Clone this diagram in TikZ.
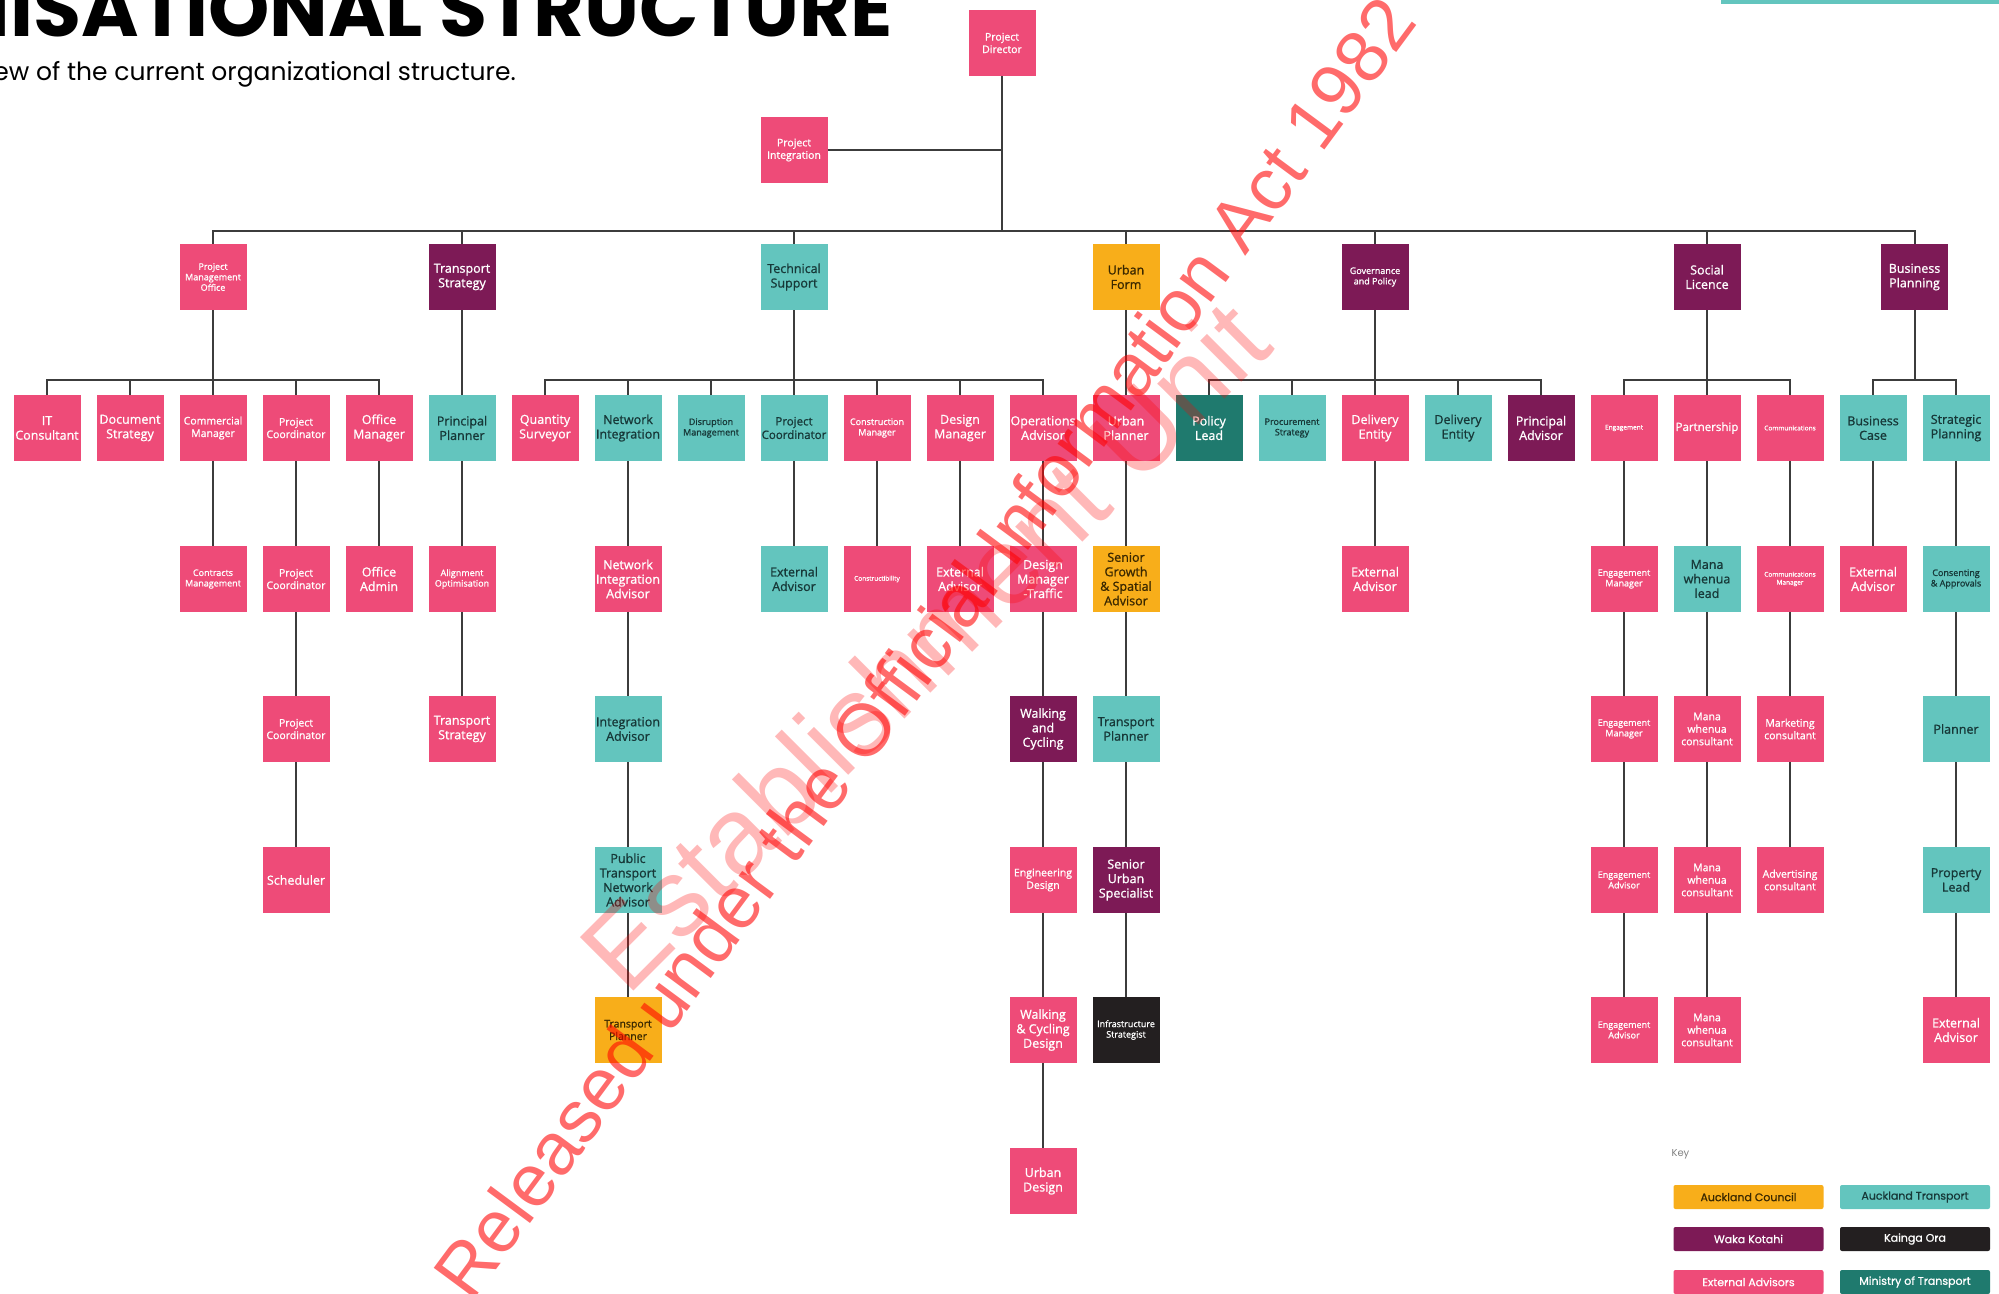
\documentclass[tikz,border=0pt]{standalone}
\usepackage{fontspec}
\usepackage{xcolor}
\newfontfamily\boxfont{Open Sans}[FakeBold=1]
\newfontfamily\headfont{Poppins}
\newfontfamily\keyfont{Poppins}[FakeBold=0.8]
\newfontfamily\markfont{Liberation Sans}
\definecolor{extpink}{HTML}{EE4B78}
\definecolor{atteal}{HTML}{63C5BE}
\definecolor{wkpurple}{HTML}{7D1A56}
\definecolor{acorange}{HTML}{F8AE1A}
\definecolor{kodark}{HTML}{231F20}
\definecolor{motgreen}{HTML}{1F7A6E}
\definecolor{tealtext}{HTML}{173838}
\definecolor{ortext}{HTML}{3A2800}
\definecolor{linegrey}{HTML}{3C3C3C}
\newcommand{\fsbig}{\fontsize{12.5}{14.5}\selectfont}
\newcommand{\fswide}{\fontsize{11.5}{13.5}\selectfont}
\newcommand{\fsmid}{\fontsize{10.5}{12.5}\selectfont}
\newcommand{\fssml}{\fontsize{9}{10.5}\selectfont}
\newcommand{\fstny}{\fontsize{6.5}{8}\selectfont}

\tikzset{
    role/.style={minimum width=67pt, minimum height=66pt, inner sep=0pt, align=center, font=\boxfont\fsbig},
    ext/.style={role, fill=extpink, text=white},
    atr/.style={role, fill=atteal, text=tealtext},
    wk/.style={role, fill=wkpurple, text=white},
    acl/.style={role, fill=acorange, text=ortext},
    kor/.style={role, fill=kodark, text=white},
    mot/.style={role, fill=motgreen, text=white},
    fwide/.style={font=\boxfont\fswide},
    fmid/.style={font=\boxfont\fsmid},
    fsml/.style={font=\boxfont\fssml},
    ftny/.style={font=\boxfont\fstny},
    link/.style={draw=linegrey, line width=2pt},
    keybox/.style={minimum width=150pt, minimum height=24pt, inner sep=0pt, rounded corners=2pt, font=\keyfont\fontsize{11}{11}\selectfont},
}

\begin{document}
\begin{tikzpicture}[x=1pt, y=-1pt]
    \useasboundingbox (0,0) rectangle (1999,1293);
    \clip (0,0) rectangle (1999,1293);

    \node[anchor=base east, inner sep=0pt, font=\headfont\bfseries\fontsize{78}{78}\selectfont] (title) at (893,36) {ORGANISATIONAL STRUCTURE};
    \node[anchor=base east, inner sep=0pt, font=\headfont\fontsize{25}{26}\selectfont] (subtitle) at (516,80) {Below is an overview of the current organizational structure.};
    \fill[atteal] (1721,0) rectangle (1999,4);

    % top
    \node[ext,fmid] (pd) at (1002,43) {Project\\Director};
    \node[ext,fmid] (pint) at (794,150) {Project\\Integration};

    % workstreams
    \node[ext,fsml] (pmo) at (213,277) {Project\\Management\\Office};
    \node[wk] (tstrat) at (462,277) {Transport\\Strategy};
    \node[atr] (techsup) at (794,277) {Technical\\Support};
    \node[acl] (urbform) at (1126,277) {Urban\\Form};
    \node[wk,fsml] (govpol) at (1375,277) {Governance\\and Policy};
    \node[wk] (soclic) at (1707,277) {Social\\Licence};
    \node[wk] (busplan) at (1914.5,277) {Business\\Planning};

    % second level
    \node[ext] (itcons) at (47,428) {IT\\Consultant};
    \node[ext] (docstrat) at (130,428) {Document\\Strategy};
    \node[ext,fmid] (commgr) at (213,428) {Commercial\\Manager};
    \node[ext,fmid] (pcoordA) at (296,428) {Project\\Coordinator};
    \node[ext] (offmgr) at (379,428) {Office\\Manager};
    \node[atr] (prplan) at (462,428) {Principal\\Planner};
    \node[ext] (qsurv) at (545,428) {Quantity\\Surveyor};
    \node[atr] (netint) at (628,428) {Network\\Integration};
    \node[atr,fsml] (disrupt) at (711,428) {Disruption\\Management};
    \node[atr,fwide] (pcoordB) at (794,428) {Project\\Coordinator};
    \node[ext,fsml] (constmgr) at (877,428) {Construction\\Manager};
    \node[ext] (desmgr) at (960,428) {Design\\Manager};
    \node[ext] (opsadv) at (1043,428) {Operations\\Advisor};
    \node[ext] (urbplan) at (1126,428) {Urban\\Planner};
    \node[mot] (pollead) at (1209,428) {Policy\\Lead};
    \node[atr,fsml] (procstrat) at (1292,428) {Procurement\\Strategy};
    \node[ext] (delentA) at (1375,428) {Delivery\\Entity};
    \node[atr] (delentB) at (1458,428) {Delivery\\Entity};
    \node[wk] (pradv) at (1541,428) {Principal\\Advisor};
    \node[ext,ftny] (engage) at (1624,428) {Engagement};
    \node[ext,fwide] (partner) at (1707,428) {Partnership};
    \node[ext,ftny] (comms) at (1790,428) {Communications};
    \node[atr] (buscase) at (1873,428) {Business\\Case};
    \node[atr] (stratplan) at (1956,428) {Strategic\\Planning};

    % third level
    \node[ext,fsml] (contracts) at (213,579) {Contracts\\Management};
    \node[ext,fmid] (pcoordC) at (296,579) {Project\\Coordinator};
    \node[ext] (offadmin) at (379,579) {Office\\Admin};
    \node[ext,fsml] (align) at (462,579) {Alignment\\Optimisation};
    \node[ext] (niadv) at (628,579) {Network\\Integration\\Advisor};
    \node[atr] (extadvA) at (794,579) {External\\Advisor};
    \node[ext,ftny] (constr) at (877,579) {Constructibility};
    \node[ext] (extadvB) at (960,579) {External\\Advisor};
    \node[ext] (dmtraffic) at (1043,579) {Design\\Manager\\-Traffic};
    \node[acl] (sgsa) at (1126,579) {Senior\\Growth\\\& Spatial\\Advisor};
    \node[ext] (extadvC) at (1375,579) {External\\Advisor};
    \node[ext,fsml] (engmgrA) at (1624,579) {Engagement\\Manager};
    \node[atr] (mwlead) at (1707,579) {Mana\\whenua\\lead};
    \node[ext,ftny] (commsmgr) at (1790,579) {Communications\\Manager};
    \node[ext] (extadvD) at (1873,579) {External\\Advisor};
    \node[atr,fsml] (consent) at (1956,579) {Consenting\\\& Approvals};

    % fourth level
    \node[ext,fmid] (pcoordD) at (296,729) {Project\\Coordinator};
    \node[ext] (tstratB) at (462,729) {Transport\\Strategy};
    \node[atr] (intadv) at (628,729) {Integration\\Advisor};
    \node[wk] (walkcyc) at (1043,729) {Walking\\and\\Cycling};
    \node[atr] (tplanA) at (1126,729) {Transport\\Planner};
    \node[ext,fsml] (engmgrB) at (1624,729) {Engagement\\Manager};
    \node[ext,fmid] (mwconsA) at (1707,729) {Mana\\whenua\\consultant};
    \node[ext,fmid] (marketing) at (1790,729) {Marketing\\consultant};
    \node[atr] (planner) at (1956,729) {Planner};

    % fifth level
    \node[ext] (sched) at (296,880) {Scheduler};
    \node[atr] (ptna) at (628,880) {Public\\Transport\\Network\\Advisor};
    \node[ext,fmid] (engdes) at (1043,880) {Engineering\\Design};
    \node[wk] (seniorurb) at (1126,880) {Senior\\Urban\\Specialist};
    \node[ext,fsml] (engadvA) at (1624,880) {Engagement\\Advisor};
    \node[ext,fmid] (mwconsB) at (1707,880) {Mana\\whenua\\consultant};
    \node[ext,fmid] (advert) at (1790,880) {Advertising\\consultant};
    \node[atr] (proplead) at (1956,880) {Property\\Lead};

    % sixth and seventh level
    \node[acl,fmid] (tplanB) at (628,1030) {Transport\\Planner};
    \node[ext] (wcdesign) at (1043,1030) {Walking\\\& Cycling\\Design};
    \node[kor,fsml] (infra) at (1126,1030) {Infrastructure\\Strategist};
    \node[ext,fsml] (engadvB) at (1624,1030) {Engagement\\Advisor};
    \node[ext,fmid] (mwconsC) at (1707,1030) {Mana\\whenua\\consultant};
    \node[ext] (extadvE) at (1956,1030) {External\\Advisor};
    \node[ext] (urbdes) at (1043,1181) {Urban\\Design};

    % connectors
    \coordinate (mainbus) at (1002,231);
    \draw[link] (pd.south) -- (mainbus);
    \draw[link] (pint.east) -- (pint.east -| pd.south);
    \foreach \n in {pmo,tstrat,techsup,urbform,govpol,soclic,busplan}
        \draw[link] (\n.north) |- (mainbus);

    \coordinate (pmobus) at (213,380);
    \coordinate (tsbus) at (794,380);
    \coordinate (govbus) at (1375,380);
    \coordinate (slbus) at (1707,380);
    \coordinate (bpbus) at (1914.5,380);
    \draw[link] (pmo.south) -- (pmobus);
    \draw[link] (techsup.south) -- (tsbus);
    \draw[link] (govpol.south) -- (govbus);
    \draw[link] (soclic.south) -- (slbus);
    \draw[link] (busplan.south) -- (bpbus);
    \foreach \n in {itcons,docstrat,commgr,pcoordA,offmgr}
        \draw[link] (\n.north) |- (pmobus);
    \foreach \n in {qsurv,netint,disrupt,pcoordB,constmgr,desmgr,opsadv}
        \draw[link] (\n.north) |- (tsbus);
    \foreach \n in {pollead,procstrat,delentA,delentB,pradv}
        \draw[link] (\n.north) |- (govbus);
    \foreach \n in {engage,partner,comms}
        \draw[link] (\n.north) |- (slbus);
    \foreach \n in {buscase,stratplan}
        \draw[link] (\n.north) |- (bpbus);

    \foreach \a/\b in {tstrat/prplan, urbform/urbplan,
        commgr/contracts, pcoordA/pcoordC, pcoordC/pcoordD, pcoordD/sched, offmgr/offadmin,
        prplan/align, align/tstratB,
        netint/niadv, niadv/intadv, intadv/ptna, ptna/tplanB,
        pcoordB/extadvA, constmgr/constr, desmgr/extadvB,
        opsadv/dmtraffic, dmtraffic/walkcyc, walkcyc/engdes, engdes/wcdesign, wcdesign/urbdes,
        urbplan/sgsa, sgsa/tplanA, tplanA/seniorurb, seniorurb/infra,
        delentA/extadvC,
        engage/engmgrA, engmgrA/engmgrB, engmgrB/engadvA, engadvA/engadvB,
        partner/mwlead, mwlead/mwconsA, mwconsA/mwconsB, mwconsB/mwconsC,
        comms/commsmgr, commsmgr/marketing, marketing/advert,
        buscase/extadvD,
        stratplan/consent, consent/planner, planner/proplead, proplead/extadvE}
        \draw[link] (\a) -- (\b);

    % key
    \node[anchor=west, text=gray, font=\headfont\fontsize{10}{10}\selectfont] (keyhead) at (1668,1154) {Key};
    \node[keybox, fill=acorange, text=ortext] (kac) at (1748.5,1197) {Auckland Council};
    \node[keybox, fill=atteal, text=tealtext] (kat) at (1915,1197) {Auckland Transport};
    \node[keybox, fill=wkpurple, text=white] (kwk) at (1748.5,1239) {Waka Kotahi};
    \node[keybox, fill=kodark, text=white] (kko) at (1915,1239) {Kainga Ora};
    \node[keybox, fill=extpink, text=white] (kext) at (1748.5,1282) {External Advisors};
    \node[keybox, fill=motgreen, text=white] (kmot) at (1915,1282) {Ministry of Transport};

    % watermarks
    \node[rotate=45, text=red, opacity=0.28, font=\markfont\fontsize{110}{110}\selectfont] (wmunit) at (924,645) {Establishment Unit};
    \node[rotate=53.5, text=red, opacity=0.58, font=\markfont\fontsize{74}{74}\selectfont] (wmrel) at (924,647) {Released under the Official Information Act 1982};
\end{tikzpicture}
\end{document}
